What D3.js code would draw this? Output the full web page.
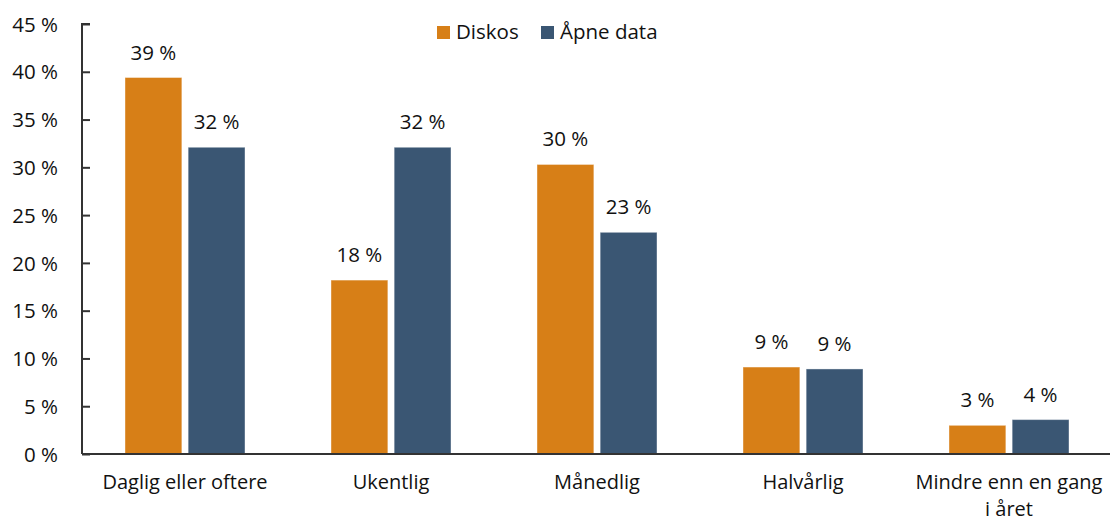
<!DOCTYPE html>
<html><head><meta charset="utf-8">
<script src="https://cdn.jsdelivr.net/npm/d3@7"></script>
<style>body{margin:0;background:#fff}svg{display:block}text{font-family:"Open Sans",Lato,sans-serif;fill:#111}</style>
</head><body><svg id="c" width="1110" height="522"></svg>
<script>
const categories = ["Daglig eller oftere","Ukentlig","Månedlig","Halvårlig","Mindre enn en gang i året"];
const categoryLines = [["Daglig eller oftere"],["Ukentlig"],["Månedlig"],["Halvårlig"],["Mindre enn en gang","i året"]];
const seriesNames = ["Diskos","Åpne data"];
const diskos = [39.4, 18.2, 30.3, 9.1, 3.0];
const apneData = [32.1, 32.1, 23.2, 8.9, 3.6];
const valueLabels = [["39 %","18 %","30 %","9 %","3 %"],["32 %","32 %","23 %","9 %","4 %"]];
const yTicks = [0,5,10,15,20,25,30,35,40,45];
const colors = ["#D77F17","#3A5673"];

const FS = 20.5;
const svg = d3.select("#c");
const x0 = 82, x1 = 1112, yTop = 24, yBot = 454;
const y = d3.scaleLinear().domain([0,45]).range([yBot,yTop]);
const x = d3.scaleBand().domain(categories).range([x0,x1]).paddingInner(0).paddingOuter(0);
const inner = d3.scaleBand().domain(seriesNames).range([0,120]).paddingInner(0.1);
const off = (x.bandwidth()-120)/2;
const series = [diskos, apneData];

const g = svg.append("g");
seriesNames.forEach((s,si)=>{
  g.selectAll(".b"+si).data(series[si]).enter().append("rect")
    .attr("x",(d,i)=>x(categories[i])+off+inner(s))
    .attr("width",inner.bandwidth())
    .attr("y",d=>y(d)).attr("height",d=>yBot-y(d))
    .attr("fill",colors[si]).attr("stroke","#fff").attr("stroke-opacity",0.4).attr("stroke-width",1);
  g.selectAll(".l"+si).data(series[si]).enter().append("text")
    .attr("x",(d,i)=>x(categories[i])+off+inner(s)+inner.bandwidth()/2)
    .attr("y",d=>y(d)-18).attr("text-anchor","middle").attr("font-size",FS)
    .text((d,i)=>valueLabels[si][i]);
});

// y axis
const ya = svg.append("g").attr("transform",`translate(${x0},0)`)
  .call(d3.axisRight(y).tickValues(yTicks).tickSize(8).tickFormat(d=>d+" %"));
ya.select(".domain").attr("stroke","#333").attr("stroke-width",2).attr("d",`M8,${yTop}H0V${yBot}`);
ya.selectAll(".tick line").attr("stroke","#333").attr("stroke-width",2);
ya.selectAll(".tick text").attr("x",-24).attr("text-anchor","end").attr("font-size",FS).attr("fill","#111").attr("dy","0.35em");

// x axis line
svg.append("line").attr("x1",x0).attr("x2",1110).attr("y1",yBot).attr("y2",yBot).attr("stroke","#333").attr("stroke-width",2);

// category labels
categoryLines.forEach((lines,i)=>{
  const cx = x(categories[i])+x.bandwidth()/2;
  const t = svg.append("text").attr("x",cx).attr("y",489).attr("text-anchor","middle").attr("font-size",20);
  lines.forEach((ln,j)=>t.append("tspan").attr("x",cx).attr("dy",j?27:0).text(ln));
});

// legend
const lg = svg.append("g");
const lx = [437,541];
seriesNames.forEach((s,i)=>{
  lg.append("rect").attr("x",lx[i]).attr("y",26).attr("width",13).attr("height",13).attr("fill",colors[i]);
  lg.append("text").attr("x",lx[i]+19).attr("y",39).attr("font-size",FS).text(s);
});
</script></body></html>
